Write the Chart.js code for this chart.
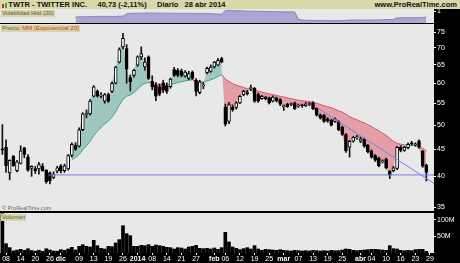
<!DOCTYPE html>
<html>
<head>
<meta charset="utf-8">
<script src="https://cdn.jsdelivr.net/npm/chart.js@4.4.1/dist/chart.umd.min.js"></script>
<style>
  body { margin: 0; width: 460px; height: 263px; background: #000; overflow: hidden; position: relative; font-family: "Liberation Sans", Arial, sans-serif; }
  canvas { position: absolute; left: 0; }
  #head { position: absolute; left: 0; top: 0; width: 460px; height: 9px; background: #dad7a9; font-size: 7.5px; font-weight: bold; line-height: 9px; color: #111; white-space: pre; }
  #head .r { position: absolute; right: 3px; top: 0; }
  #head .ic { position: absolute; top: 3px; width: 2px; height: 5px; }
  .tag { position: absolute; left: 1px; background: #d8d5a6; color: #555; font-size: 6px; line-height: 7px; padding: 0 1px; white-space: pre; }
  .tag b { color: #d03030; font-weight: normal; }
  #copy { position: absolute; left: 2px; top: 205px; font-size: 5.5px; color: #666; }
</style>
</head>
<body>
<div id="head"><span class="ic" style="left:2px;background:#d22;top:4px;height:4px"></span><span class="ic" style="left:5px;background:#2b2"></span>    TWTR - TWITTER INC.     40,73 (-2,11%)     Diario   28 abr 2014<span class="r">www.ProRealTime.com</span></div>
<canvas id="vol" width="460" height="14" style="top:9px"></canvas>
<canvas id="price" width="460" height="187" style="top:24px"></canvas>
<canvas id="volume" width="460" height="50" style="top:213px"></canvas>
<div class="tag" style="top:10px">Volatilidad Hist (20)</div>
<div class="tag" style="top:25px">Precio: <b>MM (Exponencial 20)</b></div>
<div class="tag" style="top:214px">Volumen</div>
<div id="copy">© ProRealTime.com</div>
<script>
// daily candles, 7 nov 2013 .. 28 abr 2014
const openP = [
  45.1, 45.4, 40.6, 43.7, 41.0, 42.3, 45.3, 43.5, 41.4, 41.4, 41.3, 41.8, 41.1, 40.6, 39.8, 40.9,
  41.9, 41.0, 41.3, 43.8, 45.8, 45.6, 49.0, 52.3, 52.5, 56.7, 57.9, 56.7, 55.5, 57.1, 57.9, 60.0, 65.8, 70.3, 69.8, 61.5, 62.1,
  64.9, 67.3, 64.4, 67.3, 60.5, 59.5, 59.1, 60.1, 59.3, 59.1, 63.7, 63.5, 63.3, 61.9, 61.3, 63.0, 60.8, 57.6, 59.3, 62.8, 63.2,
  64.4, 64.9, 66.8, 54.0, 50.8, 54.0, 54.0, 55.1, 57.1, 57.6, 58.6, 58.7, 57.1, 56.1, 56.5, 56.3, 55.5, 56.3, 55.9,
  54.2, 54.8, 54.7, 55.1, 54.3, 54.5, 54.4, 54.7, 55.1, 53.8, 52.3, 52.2, 51.4, 51.1, 50.8, 50.8, 49.6, 48.0, 45.4, 46.6, 47.3,
  46.6, 47.0, 45.8, 44.7, 43.8, 43.3, 42.6, 43.1, 40.9, 41.0, 41.4, 45.4, 44.8, 45.3, 46.2, 45.9, 46.7, 44.6, 42.0
];
const closeP = [
  44.9, 41.9, 42.9, 41.9, 42.6, 44.7, 44.0, 41.1, 41.8, 41.0, 42.1, 41.0, 39.1, 39.2, 40.4, 41.5,
  41.0, 41.9, 43.8, 46.0, 45.0, 49.0, 52.5, 52.6, 55.5, 59.1, 56.7, 57.0, 57.1, 55.5, 60.0, 64.4, 69.5, 73.0, 63.8, 60.4, 63.5,
  67.3, 68.3, 65.8, 61.3, 59.1, 56.7, 57.2, 58.2, 57.9, 61.1, 62.1, 62.1, 62.1, 63.0, 62.6, 61.3, 57.9, 60.4, 59.5, 64.0, 64.4,
  65.8, 66.3, 65.8, 50.2, 54.7, 53.5, 55.1, 56.7, 57.9, 57.3, 58.7, 55.5, 55.5, 56.7, 56.1, 55.1, 56.5, 55.6, 54.8,
  54.3, 54.2, 54.8, 53.7, 54.4, 54.4, 54.8, 54.8, 53.7, 52.2, 51.6, 50.8, 50.9, 50.0, 51.4, 49.0, 48.0, 44.7, 46.6, 47.4, 47.4,
  47.1, 45.6, 44.5, 43.5, 42.9, 41.9, 42.8, 41.5, 40.2, 41.5, 45.4, 44.8, 45.4, 46.0, 46.1, 46.0, 45.4, 41.9, 40.7
];
const highP = [
  50.1, 46.9, 43.0, 43.8, 42.9, 45.7, 45.4, 44.0, 41.9, 41.8, 42.5, 42.3, 41.2, 40.8, 40.8, 41.8,
  42.1, 42.2, 44.0, 46.3, 46.3, 49.4, 52.8, 53.4, 55.9, 59.4, 58.3, 57.6, 57.4, 57.5, 60.4, 64.6, 70.0, 74.6, 71.0, 62.2, 63.8,
  67.6, 70.3, 67.0, 67.6, 62.0, 60.2, 59.8, 60.8, 60.1, 61.4, 64.3, 64.0, 63.8, 63.4, 63.2, 63.3, 61.2, 60.8, 60.2, 64.4, 65.0,
  66.0, 66.9, 67.2, 54.8, 55.2, 54.6, 55.4, 56.9, 58.2, 58.2, 59.5, 58.9, 57.5, 56.9, 56.7, 56.5, 56.8, 56.5, 56.1,
  54.6, 55.0, 55.1, 55.3, 54.8, 54.8, 55.2, 55.2, 55.4, 53.9, 52.5, 52.4, 51.7, 51.3, 51.6, 51.0, 49.8, 48.2, 46.8, 47.6, 47.8,
  47.5, 47.3, 46.0, 44.9, 44.0, 43.5, 43.0, 43.3, 41.0, 41.8, 45.6, 45.7, 45.6, 46.3, 46.6, 46.3, 46.9, 44.8, 42.2
];
const lowP = [
  44.0, 40.7, 39.4, 41.8, 40.8, 42.2, 43.4, 40.9, 40.0, 40.5, 40.4, 40.9, 38.8, 38.7, 39.6, 40.6,
  40.6, 40.7, 41.1, 43.5, 44.8, 45.4, 48.8, 51.6, 52.2, 56.5, 56.5, 56.3, 55.0, 55.2, 57.6, 59.8, 65.5, 69.7, 60.0, 58.0, 61.6,
  64.6, 66.5, 63.5, 61.0, 58.3, 55.6, 56.8, 57.6, 57.4, 58.7, 61.8, 61.7, 61.7, 61.6, 60.9, 61.0, 56.8, 57.3, 58.6, 62.5, 62.9,
  64.1, 64.7, 65.6, 49.8, 50.3, 53.1, 53.6, 54.9, 56.8, 57.0, 58.1, 55.2, 55.2, 55.9, 55.8, 54.8, 55.3, 55.3, 54.4,
  53.3, 54.0, 54.4, 53.5, 54.0, 54.0, 54.2, 54.4, 53.5, 52.0, 51.3, 50.6, 50.6, 49.8, 50.6, 48.8, 47.8, 44.4, 43.5, 46.4, 47.0,
  46.3, 45.4, 44.3, 43.3, 42.7, 41.7, 42.4, 41.3, 39.6, 40.8, 41.2, 44.5, 44.6, 45.1, 45.8, 45.6, 45.2, 41.6, 39.2
];
// MM exponencial 20
const emaP = [
  null, null, null, null, null, null, null, null, null, null, null, null, null, null, null, null,
  null, null, null, 43.0, 43.4, 44.0, 44.9, 45.7, 46.6, 47.8, 48.7, 49.5, 50.3, 50.9, 51.8, 53.0, 54.5, 56.0, 56.7, 57.0, 57.6,
  58.5, 59.4, 60.0, 60.2, 60.1, 59.8, 59.7, 59.6, 59.5, 59.6, 59.9, 60.2, 60.4, 60.6, 60.8, 60.9, 60.6, 60.4, 60.3, 60.6, 60.9,
  61.3, 61.8, 62.3, 61.1, 60.5, 59.9, 59.5, 59.2, 58.9, 58.6, 58.4, 58.2, 58.0, 57.7, 57.5, 57.3, 57.1, 56.9, 56.7,
  56.5, 56.3, 56.1, 55.9, 55.7, 55.6, 55.5, 55.4, 55.2, 55.0, 54.7, 54.4, 54.2, 53.9, 53.6, 53.2, 52.9, 52.4, 51.9, 51.5, 51.2,
  50.8, 50.5, 50.1, 49.7, 49.2, 48.8, 48.3, 47.8, 47.2, 46.6, 46.2, 46.0, 45.9, 45.8, 45.8, 45.7, 45.6, 45.2, 44.7
];
// volumen, millones
const volM = [
  117.7, 27.9, 16.1, 6.3, 8.7, 11.1, 8.0, 12.8, 7.4, 5.8, 8.3, 5.0, 12.7, 9.0, 6.0, 5.5,
  10, 8, 12, 17, 9, 20, 25, 20, 18, 38, 22, 14, 12, 20, 19, 30, 40, 82, 58, 52, 20,
  20, 23, 22, 25, 20, 24, 22, 20, 17, 16, 12, 16, 15, 12, 18, 20, 23, 14, 13, 14, 12,
  15, 11, 16, 62, 33, 18, 14, 10, 13, 16, 12, 22, 12, 8, 11, 10, 9, 8, 10,
  8, 7, 6, 8, 7, 6, 7, 6, 8, 7, 6, 7, 6, 8, 7, 7, 9, 12, 11, 8, 7,
  8, 9, 10, 11, 11, 10, 9, 8, 22, 13, 12, 8, 7, 8, 7, 10, 11, 11, 5
];
// volatilidad historica (20)
const histVol = [
  null, null, null, null, null, null, null, null, null, null, null, null, null, null, null, null,
  null, null, null, null, 0.58, 0.59, 0.60, 0.60, 0.61, 0.61, 0.62, 0.62, 0.62, 0.62, 0.62, 0.62, 0.63, 0.64, 0.80, 0.84, 0.84,
  0.85, 0.85, 0.86, 0.86, 0.86, 0.86, 0.85, 0.85, 0.85, 0.85, 0.84, 0.84, 0.84, 0.84, 0.84, 0.84, 0.83, 0.83, 0.83, 0.82, 0.82,
  0.80, 0.79, 0.78, 1.05, 1.06, 1.04, 1.03, 1.02, 1.01, 1.00, 0.99, 0.99, 0.98, 0.98, 0.97, 0.97, 0.97, 0.96, 0.96,
  0.95, 0.95, 0.95, 0.94, 0.42, 0.36, 0.35, 0.34, 0.33, 0.33, 0.33, 0.33, 0.33, 0.32, 0.32, 0.33, 0.33, 0.34, 0.36, 0.36, 0.36,
  0.36, 0.36, 0.36, 0.37, 0.37, 0.37, 0.38, 0.40, 0.40, 0.41, 0.52, 0.52, 0.52, 0.53, 0.53, 0.53, 0.53, 0.55, 0.5756
];
// x axis: day index -> label
const tickIdx = [1, 5, 9, 13, 16, 21, 25, 29, 33, 37, 41, 45, 49, 53, 58, 61, 65, 69, 73, 77, 81, 85, 89, 93, 98, 101, 105, 109, 113, 117];
const tickLbl = ["08", "14", "20", "26", "dic", "09", "13", "19", "26", "2014", "08", "14", "21", "27", "feb", "06", "12", "19", "25", "mar", "07", "13", "19", "25", "abr", "04", "10", "16", "23", "29"];
const boldLbl = ["dic", "2014", "feb", "mar", "abr"];
const priceTicks = [35, 40, 45, 50, 55, 60, 65, 70, 75];
const volTicks = [50, 100];
// lineas dibujadas a mano: [indice, precio]
const trendLine = [[86, 54.0], [118.1, 38.8]];
const supportLine = [[12.6, 40.25], [118.1, 40.25]];

const X_MIN = -0.65, X_MAX = 118.1;
const plotBg = {
  id: "plotBg",
  beforeDraw(chart) {
    const a = chart.chartArea, ctx = chart.ctx;
    ctx.save();
    ctx.fillStyle = "#e8e8e8";
    ctx.fillRect(a.left, a.top, a.right - a.left, a.bottom - a.top);
    ctx.restore();
  }
};
// fixed axis sizes, no extra padding for edge labels
const fitRight = (s) => { s.width = 26; s.paddingTop = 0; s.paddingBottom = 0; };
const fitBottom = (s) => { s.height = 10; s.paddingLeft = 0; s.paddingRight = 0; };
const fitHidden = (s) => { s.height = 0; s.paddingLeft = 0; s.paddingRight = 0; };
const axisFont = { family: "Liberation Sans", size: 7 };
const hiddenX = { type: "linear", min: X_MIN, max: X_MAX, offset: false, display: false, afterFit: fitHidden };
const idx = closeP.map((_, i) => i);
const up = idx.map((i) => closeP[i] >= openP[i]);

new Chart(document.getElementById("vol"), {
  type: "line",
  data: {
    datasets: [{
      data: idx.map((i) => ({ x: i, y: histVol[i] })),
      borderColor: "#8a88b8", borderWidth: 1, pointRadius: 0,
      backgroundColor: "#a9a7cf", fill: "start"
    }]
  },
  options: {
    responsive: false, animation: false, events: [],
    layout: { padding: 0 },
    plugins: { legend: { display: false }, tooltip: { enabled: false } },
    scales: {
      x: hiddenX,
      y: {
        position: "right", min: 0.15, max: 1.15, afterFit: fitRight,
        afterBuildTicks: (s) => { s.ticks = [{ value: 1 }, { value: 0.5756 }]; },
        border: { display: false },
        grid: { drawOnChartArea: false, tickLength: 2, color: "#fff" },
        ticks: {
          font: axisFont, padding: 1,
          color: (c) => (c.tick.value < 0.9 ? "#000" : "#fff"),
          showLabelBackdrop: (c) => c.tick.value < 0.9,
          backdropColor: "#fff", backdropPadding: 0,
          callback: (v) => (v === 1 ? "1" : "0,5756")
        }
      }
    }
  },
  plugins: [plotBg]
});

const teal = "#3aa58e", red = "#e0506a";
new Chart(document.getElementById("price"), {
  type: "line",
  data: {
    datasets: [
      {
        order: 6,
        data: idx.map((i) => ({ x: i, y: i >= 19 ? closeP[i] : null })),
        borderWidth: 0, pointRadius: 0, fill: false
      },
      {
        order: 5,
        data: idx.map((i) => ({ x: i, y: emaP[i] })),
        borderWidth: 1, pointRadius: 0,
        borderColor: teal,
        segment: { borderColor: (c) => (closeP[c.p1DataIndex] >= emaP[c.p1DataIndex] ? teal : red) },
        fill: { target: 0, above: "rgba(224,110,120,0.6)", below: "rgba(110,175,165,0.6)" }
      },
      {
        type: "bar", order: 3, grouped: false, barThickness: 1,
        data: idx.map((i) => ({ x: i, y: [lowP[i], highP[i]] })),
        backgroundColor: "#111"
      },
      {
        type: "bar", order: 2, grouped: false, barThickness: 3, minBarLength: 1,
        data: idx.map((i) => ({ x: i, y: [openP[i], closeP[i]] })),
        backgroundColor: idx.map((i) => (up[i] ? "#fff" : "#000")),
        borderColor: "#000", borderWidth: 1, borderSkipped: false
      },
      {
        order: 1,
        data: supportLine.map((p) => ({ x: p[0], y: p[1] })),
        borderColor: "#7c7ce8", borderWidth: 1, pointRadius: 0
      },
      {
        order: 1,
        data: trendLine.map((p) => ({ x: p[0], y: p[1] })),
        borderColor: "#7c7ce8", borderWidth: 1, pointRadius: 0
      }
    ]
  },
  options: {
    responsive: false, animation: false, events: [],
    layout: { padding: 0 },
    plugins: { legend: { display: false }, tooltip: { enabled: false } },
    scales: {
      x: hiddenX,
      y: {
        type: "logarithmic", position: "right", min: 34.4, max: 77.66, afterFit: fitRight,
        afterBuildTicks: (s) => { s.ticks = priceTicks.map((v) => ({ value: v })); },
        border: { display: false },
        grid: { drawOnChartArea: false, tickLength: 2, color: "#fff" },
        ticks: { font: axisFont, color: "#fff", padding: 1, callback: (v) => String(v) }
      }
    }
  },
  plugins: [plotBg]
});

new Chart(document.getElementById("volume"), {
  type: "line",
  data: {
    datasets: [{
      type: "bar",
      data: idx.map((i) => ({ x: i, y: volM[i] })),
      backgroundColor: "#000", borderWidth: 0,
      barThickness: 3, grouped: false
    }]
  },
  options: {
    responsive: false, animation: false, events: [],
    layout: { padding: 0 },
    plugins: { legend: { display: false }, tooltip: { enabled: false } },
    scales: {
      x: {
        type: "linear", min: X_MIN, max: X_MAX, offset: false,
        afterBuildTicks: (s) => { s.ticks = tickIdx.map((v) => ({ value: v })); },
        afterFit: fitBottom,
        border: { display: false },
        grid: { drawOnChartArea: false, tickLength: 2, color: "#fff", offset: false },
        ticks: {
          autoSkip: false, maxRotation: 0, padding: 0, color: "#fff",
          font: (c) => ({ family: "Liberation Sans", size: 7, weight: boldLbl.includes(tickLbl[tickIdx.indexOf(c.tick && c.tick.value)]) ? "bold" : "normal" }),
          callback: (v) => tickLbl[tickIdx.indexOf(v)]
        }
      },
      y: {
        position: "right", min: 0, max: 120, afterFit: fitRight,
        afterBuildTicks: (s) => { s.ticks = volTicks.map((v) => ({ value: v })); },
        border: { display: false },
        grid: { drawOnChartArea: false, tickLength: 2, color: "#fff" },
        ticks: { font: axisFont, color: "#fff", padding: 1, callback: (v) => v + "M" }
      }
    }
  },
  plugins: [plotBg]
});
</script>
</body>
</html>
